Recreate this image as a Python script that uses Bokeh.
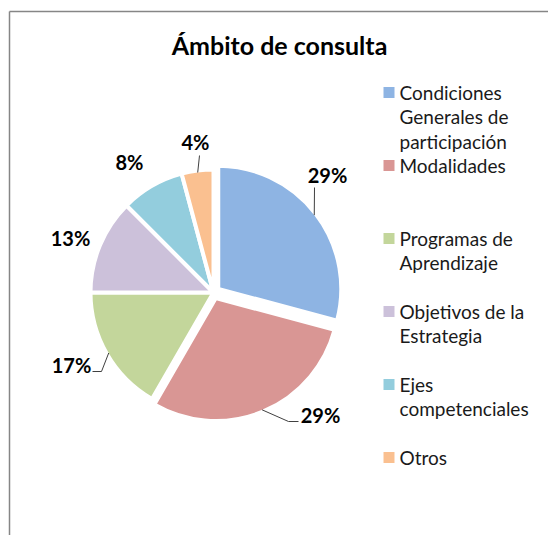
import numpy as np
from bokeh.plotting import figure
from bokeh.models import Range1d, ColumnDataSource
from bokeh.core.properties import value
from bokeh.embed import file_html
from bokeh.resources import INLINE

# ---------------- data ----------------
categories = [
    "Condiciones\nGenerales de\nparticipación",
    "Modalidades",
    "Programas de\nAprendizaje",
    "Objetivos de la\nEstrategia",
    "Ejes\ncompetenciales",
    "Otros",
]
counts = [7, 7, 4, 3, 2, 1]
colors = ["#8EB4E3", "#D99694", "#C3D69B", "#CCC1DA", "#93CDDD", "#FAC090"]
title_text = "Ámbito de consulta"

# ---------------- layout (pixels, y measured from top) ----------------
W, H = 548, 535
CX, CY, R = 213, 292, 123
explode = [6, 6, 0, 0, 0, 0]
label_pos = [(327, 174), (320, 414), (71, 364), (70, 237), (129, 161), (195, 141)]
# leader line end points after the arc point (None = no leader)
leader_tail = [[(314, 187)], [(288, 421), (298, 421)], [(101, 371), (92, 371)], None, None, [(199, 155)]]
LEG_X, LEG_Y0, LEG_STEP, LEG_LINE = 383, 92, 73, 24.4
FONT = "Lato"


def Y(py):
    return H - py


total = float(sum(counts))
fracs = [c / total for c in counts]
cum = np.concatenate([[0.0], np.cumsum(fracs)])
start = [np.pi / 2 - 2 * np.pi * cum[i + 1] for i in range(len(counts))]
end = [np.pi / 2 - 2 * np.pi * cum[i] for i in range(len(counts))]
mid = [(s + e) / 2 for s, e in zip(start, end)]
pct = [f"{int(f * 100 + 0.5)}%" for f in fracs]

cx = [CX + explode[i] * np.cos(mid[i]) for i in range(len(counts))]
cy = [Y(CY) + explode[i] * np.sin(mid[i]) for i in range(len(counts))]

p = figure(width=W, height=H, output_backend="svg", toolbar_location=None,
           x_range=Range1d(0, W), y_range=Range1d(0, H),
           min_border=0, x_axis_location=None, y_axis_location=None)
p.grid.visible = False
p.outline_line_color = None
p.background_fill_color = "white"
p.border_fill_color = "white"

# frame of the chart area (cropped by the window)
p.segment(x0=[9, 9], y0=[Y(11), Y(11)], x1=[9, W + 5], y1=[-5, Y(11)],
          line_color="#868686", line_width=1.5)

src = ColumnDataSource(dict(x=cx, y=cy, start=start, end=end, color=colors))
p.wedge(x="x", y="y", radius=R, start_angle="start", end_angle="end",
        fill_color="color", line_color="white", line_width=4, source=src)

# leader lines
for i, tail in enumerate(leader_tail):
    if tail is None:
        continue
    ax = cx[i] + (R - 2) * np.cos(mid[i])
    ay = cy[i] + (R - 2) * np.sin(mid[i])
    xs = [ax] + [t[0] for t in tail]
    ys = [ay] + [Y(t[1]) for t in tail]
    p.line(xs, ys, line_color="#404040", line_width=1)

# data labels
p.text(x=[lp[0] for lp in label_pos], y=[Y(lp[1]) for lp in label_pos], text=pct,
       text_font=value(FONT), text_font_style="bold", text_font_size="20px",
       text_color="black", text_align="center", text_baseline="middle")

# title
p.text(x=[279], y=[Y(44)], text=[title_text], text_font=value(FONT),
       text_font_style="bold", text_font_size="25px", text_color="black",
       text_align="center", text_baseline="middle")

# legend
n = len(categories)
leg_y = [Y(LEG_Y0 + i * LEG_STEP) for i in range(n)]
p.rect(x=[LEG_X + 5.5] * n, y=leg_y, width=11, height=11,
       fill_color=colors, line_color=None)
lx, ly, lt = [], [], []
for i, name in enumerate(categories):
    for j, line in enumerate(name.split("\n")):
        lx.append(LEG_X + 16)
        ly.append(leg_y[i] - j * LEG_LINE)
        lt.append(line)
p.text(x=lx, y=ly, text=lt, text_font=value(FONT), text_font_size="19px",
       text_color="#1a1a1a", text_align="left", text_baseline="middle")

open("out.html", "w").write(file_html(p, INLINE))
